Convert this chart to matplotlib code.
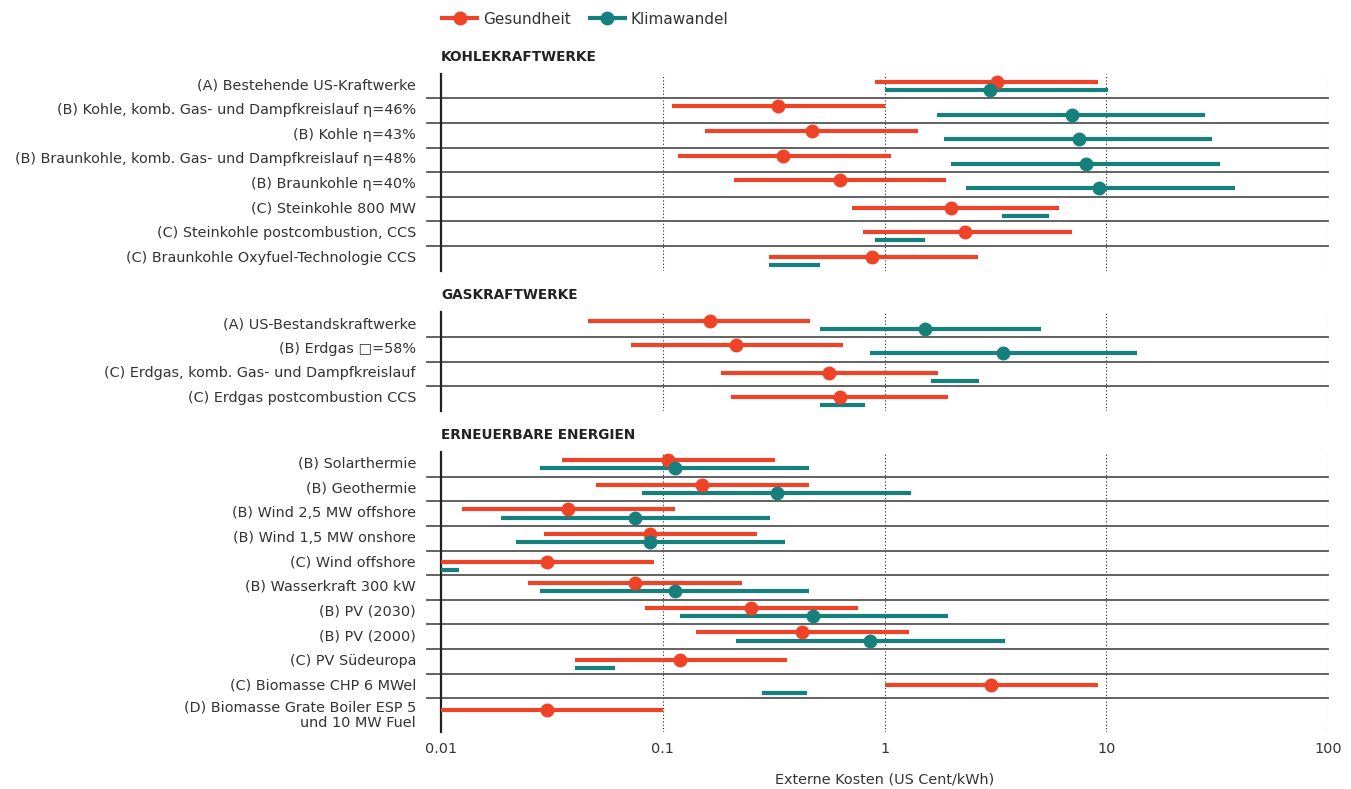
import matplotlib.pyplot as plt
from matplotlib.lines import Line2D

# Kohlekraftwerke
coal_labels = [
    "(A) Bestehende US-Kraftwerke",
    "(B) Kohle, komb. Gas- und Dampfkreislauf η=46%",
    "(B) Kohle η=43%",
    "(B) Braunkohle, komb. Gas- und Dampfkreislauf η=48%",
    "(B) Braunkohle η=40%",
    "(C) Steinkohle 800 MW",
    "(C) Steinkohle postcombustion, CCS",
    "(C) Braunkohle Oxyfuel-Technologie CCS",
]
coal_health_lo = [0.91, 0.11, 0.155, 0.117, 0.21, 0.71, 0.80, 0.30]
coal_health_mid = [3.2, 0.33, 0.47, 0.35, 0.63, 2.0, 2.3, 0.88]
coal_health_hi = [9.2, 1.0, 1.42, 1.07, 1.9, 6.1, 7.0, 2.65]
coal_climate_lo = [1.0, 1.73, 1.86, 2.0, 2.33, 3.4, 0.91, 0.30]
coal_climate_mid = [3.0, 7.0, 7.5, 8.1, 9.3, None, None, None]
coal_climate_hi = [10.2, 28, 30, 32.6, 38, 5.5, 1.53, 0.51]

# Gaskraftwerke
gas_labels = [
    "(A) US-Bestandskraftwerke",
    "(B) Erdgas \u25a1=58%",
    "(C) Erdgas, komb. Gas- und Dampfkreislauf",
    "(C) Erdgas postcombustion CCS",
]
gas_health_lo = [0.046, 0.072, 0.183, 0.203]
gas_health_mid = [0.163, 0.215, 0.56, 0.63]
gas_health_hi = [0.46, 0.65, 1.74, 1.94]
gas_climate_lo = [0.51, 0.86, 1.62, 0.51]
gas_climate_mid = [1.52, 3.42, None, None]
gas_climate_hi = [5.1, 13.8, 2.67, 0.82]

# Erneuerbare Energien
ren_labels = [
    "(B) Solarthermie",
    "(B) Geothermie",
    "(B) Wind 2,5 MW offshore",
    "(B) Wind 1,5 MW onshore",
    "(C) Wind offshore",
    "(B) Wasserkraft 300 kW",
    "(B) PV (2030)",
    "(B) PV (2000)",
    "(C) PV Südeuropa",
    "(C) Biomasse CHP 6 MWel",
    "(D) Biomasse Grate Boiler ESP 5\nund 10 MW Fuel",
]
ren_health_lo = [0.035, 0.050, 0.0124, 0.029, 0.01, 0.0248, 0.083, 0.141, 0.040, 1.0, 0.01]
ren_health_mid = [0.106, 0.150, 0.0375, 0.0875, 0.030, 0.075, 0.251, 0.426, 0.120, 3.03, 0.030]
ren_health_hi = [0.322, 0.456, 0.114, 0.265, 0.091, 0.228, 0.76, 1.29, 0.364, 9.2, 0.1]
ren_climate_lo = [0.028, 0.081, 0.0186, 0.0218, 0.01, 0.028, 0.119, 0.215, 0.040, 0.28, None]
ren_climate_mid = [0.113, 0.326, 0.075, 0.0875, None, 0.113, 0.476, 0.864, None, None, None]
ren_climate_hi = [0.456, 1.32, 0.303, 0.355, 0.0121, 0.456, 1.93, 3.51, 0.061, 0.448, None]

tick_values = [0.01, 0.1, 1, 10, 100]
tick_labels = ["0.01", "0.1", "1", "10", "100"]

RED = "#EE4326"
TEAL = "#16807D"
TXT = "#333333"

plt.rcParams["font.family"] = ["DejaVu Sans"]

W, H = 1351, 789
fig = plt.figure(figsize=(W / 100, H / 100), dpi=100)

left = 441 / W
width = (1328 - 441) / W
row_px = 24.6


def make_panel(top_px, n_rows, extra, title, labels, h_lo, h_mid, h_hi,
               c_lo, c_mid, c_hi, show_ticks=False):
    total = n_rows + extra
    height_px = total * row_px
    ax = fig.add_axes([left, 1 - (top_px + height_px) / H, width, height_px / H])
    ax.set_xscale("log")
    ax.set_xlim(0.01, 100)
    ax.set_ylim(total, 0)

    for s in ["top", "right", "bottom"]:
        ax.spines[s].set_visible(False)
    ax.spines["left"].set_linewidth(1.6)
    ax.spines["left"].set_color("#222222")

    for v in tick_values[1:]:
        ax.axvline(v, color="#222222", lw=0.8, ls=(0, (1, 2)), zorder=1)

    # separators between rows
    for i in range(1, n_rows):
        ax.plot([-0.016, 1], [i, i], transform=ax.get_yaxis_transform(),
                color="#555555", lw=1.3, clip_on=False, zorder=1)

    ys = []
    for i in range(n_rows):
        last = i == n_rows - 1
        span = 1 + (extra if last else 0)
        if c_lo[i] is None:
            y_red, y_teal = i + 0.5, None
        elif c_mid[i] is None:
            y_red, y_teal = i + 0.45, i + 0.78
        else:
            y_red, y_teal = i + 0.33, i + 0.66
        ax.hlines(y_red, h_lo[i], h_hi[i], color=RED, lw=3, zorder=3)
        ax.plot(h_mid[i], y_red, "o", color=RED, ms=9, zorder=4)
        if y_teal is not None:
            ax.hlines(y_teal, c_lo[i], c_hi[i], color=TEAL, lw=3, zorder=3)
            if c_mid[i] is not None:
                ax.plot(c_mid[i], y_teal, "o", color=TEAL, ms=9, zorder=4)
        ys.append(i + span / 2 - 0.08)

    ax.set_yticks(ys)
    ax.set_yticklabels(labels, fontsize=10.4, color=TXT, linespacing=1.1)
    ax.tick_params(axis="y", length=0, pad=18)

    if show_ticks:
        ax.set_xticks(tick_values)
        ax.set_xticklabels(tick_labels, fontsize=10.4, color=TXT)
        ax.xaxis.set_minor_locator(plt.NullLocator())
        ax.tick_params(axis="x", length=0, pad=7)
        ax.set_xlabel("Externe Kosten (US Cent/kWh)", fontsize=10.4, color=TXT,
                      labelpad=12)
    else:
        ax.set_xticks([])
        ax.xaxis.set_minor_locator(plt.NullLocator())

    fig.text(left, 1 - (top_px - 17) / H, title, fontsize=9.8, fontweight="bold",
             color="#222222", va="center", ha="left")
    return ax


make_panel(73.7, 8, 0, "KOHLEKRAFTWERKE", coal_labels,
           coal_health_lo, coal_health_mid, coal_health_hi,
           coal_climate_lo, coal_climate_mid, coal_climate_hi)
make_panel(312.4, 4, 0, "GASKRAFTWERKE", gas_labels,
           gas_health_lo, gas_health_mid, gas_health_hi,
           gas_climate_lo, gas_climate_mid, gas_climate_hi)
make_panel(452.1, 11, 0.37, "ERNEUERBARE ENERGIEN", ren_labels,
           ren_health_lo, ren_health_mid, ren_health_hi,
           ren_climate_lo, ren_climate_mid, ren_climate_hi, show_ticks=True)

handles = [
    Line2D([], [], color=RED, lw=3, marker="o", ms=9),
    Line2D([], [], color=TEAL, lw=3, marker="o", ms=9),
]
fig.legend(handles, ["Gesundheit", "Klimawandel"], loc="center left",
           bbox_to_anchor=(left + 0.001, 1 - 19 / H), ncol=2, frameon=False,
           fontsize=11, handlelength=2.3, handletextpad=0.4, columnspacing=1.2,
           labelcolor=TXT, borderaxespad=0, borderpad=0)

fig.savefig("out.png", dpi=100)
